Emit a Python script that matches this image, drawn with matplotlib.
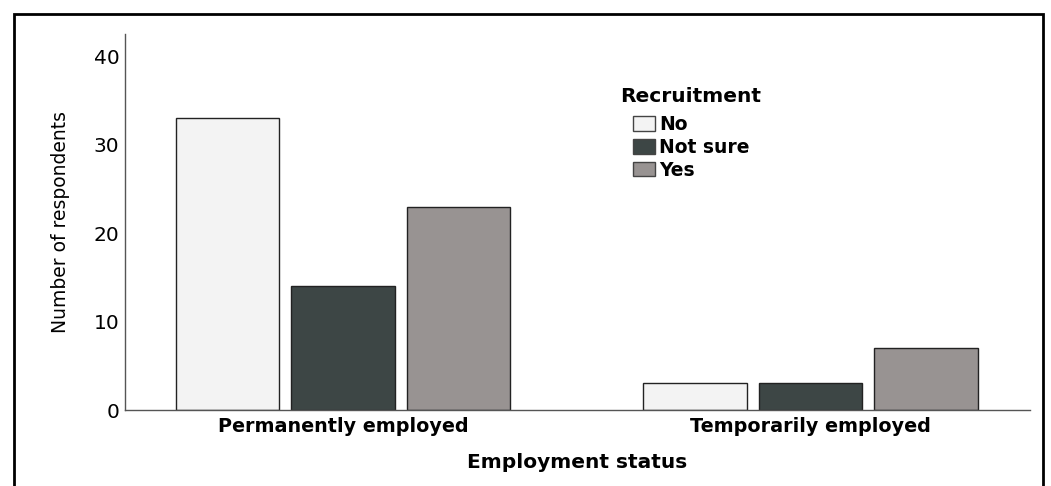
import matplotlib
matplotlib.use('Agg')
import matplotlib.pyplot as plt
import matplotlib.patches as mpatches
import numpy as np

# data
groups = ['Permanently employed', 'Temporarily employed']
recruitment = ['No', 'Not sure', 'Yes']
counts = {
    'No': [33, 3],
    'Not sure': [14, 3],
    'Yes': [23, 7],
}
colors = {'No': '#f3f3f3', 'Not sure': '#3d4645', 'Yes': '#989392'}
y_ticks = [0, 10, 20, 30, 40]

plt.rcParams['font.family'] = ['DejaVu Sans']

fig = plt.figure(figsize=(10.51, 4.86), dpi=100)
ax = fig.add_axes([125 / 1051, 76 / 486, 905 / 1051, 376 / 486])

x = np.arange(len(groups))
width = 0.2214
step = 0.247
for i, r in enumerate(recruitment):
    ax.bar(x + (i - 1) * step, counts[r], width, color=colors[r],
           edgecolor='#222222', linewidth=1.0, label=r, zorder=2)

ax.set_xlim(-0.466, 1.47)
ax.set_ylim(0, 42.5)
ax.set_yticks(y_ticks)
ax.set_xticks(x)
ax.set_xticklabels(groups, fontweight='bold', fontsize=13.8)
ax.tick_params(axis='both', length=0)
ax.tick_params(axis='y', labelsize=14.5, pad=4)
ax.tick_params(axis='x', pad=5)

for side in ['top', 'right']:
    ax.spines[side].set_visible(False)
for side in ['left', 'bottom']:
    ax.spines[side].set_color('#555555')
    ax.spines[side].set_linewidth(1.0)

ax.set_ylabel('Number of respondents', fontsize=13.5, labelpad=17)
ax.set_xlabel('Employment status', fontweight='bold', fontsize=14.5, labelpad=12)

# legend title drawn on its own, the entries are indented under it
ax.text((620 - 125) / 905, (410 - 97) / 376, 'Recruitment', transform=ax.transAxes,
        fontsize=14.5, fontweight='bold', ha='left', va='center')
handles = [mpatches.Patch(facecolor=colors[r], edgecolor='#444444', label=r) for r in recruitment]
ax.legend(handles=handles, loc='upper left',
          bbox_to_anchor=((633 - 125) / 905, (410 - 115) / 376), frameon=False,
          prop={'weight': 'bold', 'size': 13.5},
          handlelength=1.15, handleheight=0.85, handletextpad=0.25,
          labelspacing=0.2, borderpad=0, borderaxespad=0)

# outer frame around the chart
fig.patches.append(mpatches.Rectangle((14 / 1051, -0.1), 1029 / 1051, 1.1 - 14 / 486,
                                      transform=fig.transFigure, fill=False,
                                      edgecolor='black', linewidth=2, clip_on=False))

fig.savefig('out.png', dpi=100)
